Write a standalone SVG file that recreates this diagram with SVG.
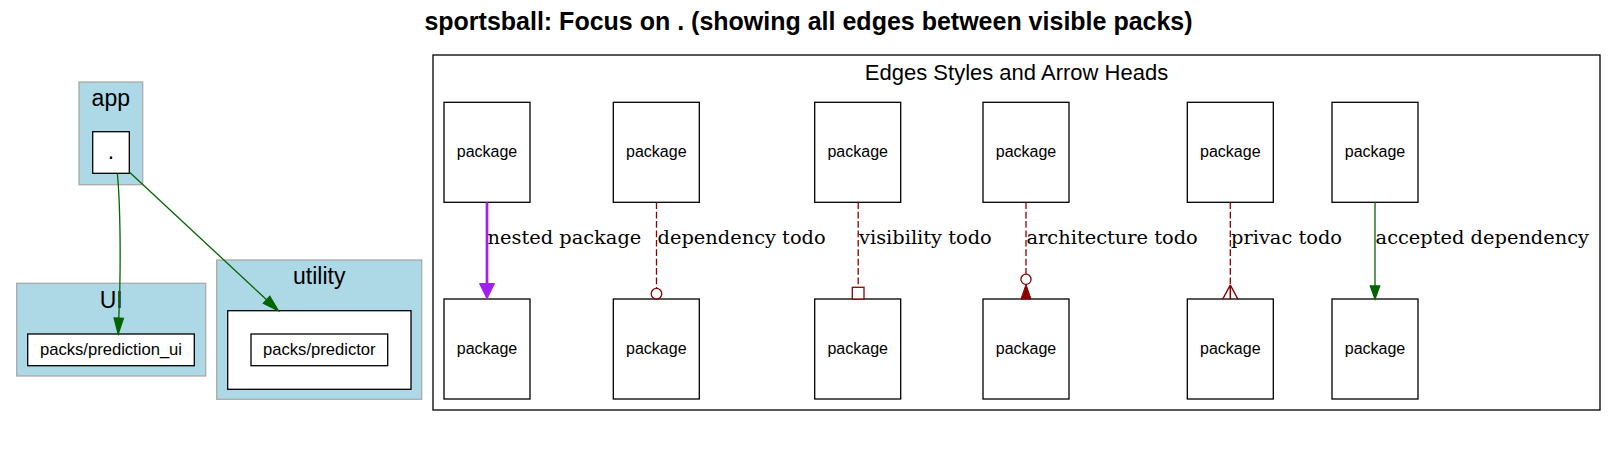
<svg xmlns="http://www.w3.org/2000/svg" width="1617" height="456" viewBox="0 0 1617 456">
<style>
.title{font-family:"Liberation Sans",Arial,sans-serif;font-weight:bold;font-size:25px;text-anchor:middle;fill:#000}
.clabel{font-family:"Liberation Sans",Arial,sans-serif;font-size:23px;text-anchor:middle;fill:#000}
.llabel{font-family:"Liberation Sans",Arial,sans-serif;font-size:22px;text-anchor:middle;fill:#000}
.ntext{font-family:"Liberation Sans",Arial,sans-serif;font-size:16px;text-anchor:middle;fill:#000}
.ptext{font-family:"Liberation Sans",Arial,sans-serif;font-size:16.6px;text-anchor:middle;fill:#000}
.elabel{font-family:"DejaVu Serif","Liberation Serif",serif;font-size:19.4px;fill:#000}
.cluster{fill:#add8e6;stroke:#aaaaaa;stroke-width:1.3}
.node{fill:#fff;stroke:#000;stroke-width:1.3}
.green{stroke:#006400;stroke-width:1.3;fill:none}
.dash{stroke:#8b0000;stroke-width:1.3;fill:none;stroke-dasharray:6.7,2.7}
</style>
<rect width="1617" height="456" fill="#fff"/>
<text class="title" x="808.5" y="30">sportsball: Focus on . (showing all edges between visible packs)</text>

<g id="cluster_app">
<rect class="cluster" x="79" y="82" width="63.7" height="102.7"/>
<text class="clabel" x="110.8" y="106">app</text>
</g>
<g id="node_root">
<rect class="node" x="92.7" y="131.7" width="36.6" height="41.6"/>
<text class="clabel" x="111" y="159">.</text>
</g>
<g id="cluster_ui">
<rect class="cluster" x="16.7" y="283.3" width="189" height="92.7"/>
<text class="clabel" x="111.2" y="308">UI</text>
</g>
<g id="node_prediction_ui">
<rect class="node" x="27.7" y="334" width="166.6" height="31.7"/>
<text class="ptext" x="111" y="355.3">packs/prediction_ui</text>
</g>
<g id="cluster_utility">
<rect class="cluster" x="216.7" y="260" width="205" height="139.3"/>
<text class="clabel" x="319.2" y="284">utility</text>
<rect class="node" x="227.7" y="310.7" width="183.3" height="78.6"/>
</g>
<g id="node_predictor">
<rect class="node" x="251" y="334" width="136.7" height="31.7"/>
<text class="ptext" x="319.3" y="355.3">packs/predictor</text>
</g>

<g id="cluster_legend">
<rect x="433" y="55" width="1167" height="355" fill="#fff" stroke="#000" stroke-width="1.3"/>
<text class="llabel" x="1016.5" y="79.5">Edges Styles and Arrow Heads</text>
</g>
<g id="pkg_top1"><rect class="node" x="444" y="102.3" width="86" height="100"/><text class="ntext" x="487" y="156.5">package</text></g>
<g id="pkg_top2"><rect class="node" x="613.3" y="102.3" width="86" height="100"/><text class="ntext" x="656.3" y="156.5">package</text></g>
<g id="pkg_top3"><rect class="node" x="814.7" y="102.3" width="86" height="100"/><text class="ntext" x="857.7" y="156.5">package</text></g>
<g id="pkg_top4"><rect class="node" x="983" y="102.3" width="86" height="100"/><text class="ntext" x="1026" y="156.5">package</text></g>
<g id="pkg_top5"><rect class="node" x="1187.3" y="102.3" width="86" height="100"/><text class="ntext" x="1230.3" y="156.5">package</text></g>
<g id="pkg_top6"><rect class="node" x="1332" y="102.3" width="86" height="100"/><text class="ntext" x="1375" y="156.5">package</text></g>
<g id="pkg_bot1"><rect class="node" x="444" y="299" width="86" height="100"/><text class="ntext" x="487" y="354">package</text></g>
<g id="pkg_bot2"><rect class="node" x="613.3" y="299" width="86" height="100"/><text class="ntext" x="656.3" y="354">package</text></g>
<g id="pkg_bot3"><rect class="node" x="814.7" y="299" width="86" height="100"/><text class="ntext" x="857.7" y="354">package</text></g>
<g id="pkg_bot4"><rect class="node" x="983" y="299" width="86" height="100"/><text class="ntext" x="1026" y="354">package</text></g>
<g id="pkg_bot5"><rect class="node" x="1187.3" y="299" width="86" height="100"/><text class="ntext" x="1230.3" y="354">package</text></g>
<g id="pkg_bot6"><rect class="node" x="1332" y="299" width="86" height="100"/><text class="ntext" x="1375" y="354">package</text></g>

<g id="connectors">
<path class="green" d="M117.3,173.3 C120.5,205 121,270 118.8,318"/>
<polygon points="114.1,318 123.4,318.4 118.2,334" fill="#006400" stroke="#006400" stroke-width="1.3"/>
<path class="green" d="M129.3,172 L266.6,299.8"/>
<polygon points="263.4,303.2 269.8,296.4 278.3,310.7" fill="#006400" stroke="#006400" stroke-width="1.3"/>

<path d="M487,202.3 V284" stroke="#a020f0" stroke-width="2.7" fill="none"/>
<polygon points="479.5,283.5 494.5,283.5 487,299" fill="#a020f0" stroke="#a020f0" stroke-width="1"/>
<text class="elabel" x="487.5" y="243.5">nested package</text>

<path class="dash" d="M656.5,202.3 V288.3"/>
<circle cx="656.5" cy="293.7" r="5.3" fill="#fff" stroke="#8b0000" stroke-width="1.3"/>
<text class="elabel" x="657.5" y="243.5">dependency todo</text>

<path class="dash" d="M858.2,202.3 V287.3"/>
<rect x="852.3" y="287.3" width="11.7" height="11.7" fill="#fff" stroke="#8b0000" stroke-width="1.3"/>
<text class="elabel" x="859" y="243.5">visibility todo</text>

<path class="dash" d="M1026,202.3 V274"/>
<circle cx="1026" cy="279.3" r="5.1" fill="#fff" stroke="#8b0000" stroke-width="1.3"/>
<polygon points="1026,284.5 1021,299 1031,299" fill="#8b0000" stroke="#8b0000" stroke-width="1"/>
<text class="elabel" x="1026.5" y="243.5">architecture todo</text>

<path class="dash" d="M1230.3,202.3 V285"/>
<path d="M1230.3,285 L1222.5,299.5 M1230.3,285 V299.5 M1230.3,285 L1238.1,299.5" stroke="#8b0000" stroke-width="1.5" fill="none"/>
<text class="elabel" x="1231" y="243.5">privac todo</text>

<path class="green" d="M1375,202.3 V286"/>
<polygon points="1370.3,286 1379.7,286 1375,299" fill="#006400" stroke="#006400" stroke-width="1.3"/>
<text class="elabel" x="1375.6" y="243.5">accepted dependency</text>
</g>
</svg>
